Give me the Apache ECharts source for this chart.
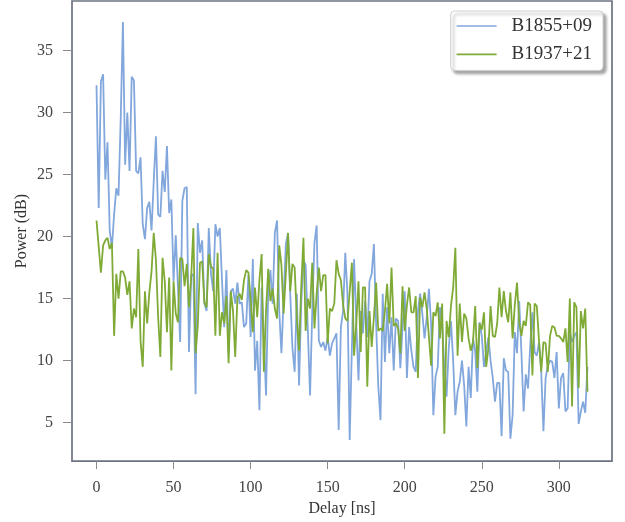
<!DOCTYPE html>
<html>
<head>
<meta charset="utf-8">
<script src="https://cdn.jsdelivr.net/npm/echarts@6/dist/echarts.min.js"></script>
<style>
  html, body { margin: 0; padding: 0; background: #ffffff; }
  #chart { width: 625px; height: 522px; }
</style>
</head>
<body>
<div id="chart"></div>
<script>
// Power delay profiles of two pulsars, one sample every 1/0.7 ns
const DELAY_STEP_NS = 1 / 0.7;

const SERIES_NAMES = ['B1855+09', 'B1937+21'];

const powerB1855 = [
  32.2, 22.3, 32.5, 33.1, 24.6, 27.6, 20.5, 19.1, 21.8, 23.9,
  23.3, 29.5, 37.3, 25.8, 30.0, 25.3, 32.9, 32.6, 25.3, 25.1,
  26.4, 21.0, 19.8, 22.3, 22.8, 20.5, 24.5, 28.1, 21.8, 21.6,
  25.3, 23.6, 27.3, 21.9, 23.0, 16.4, 20.1, 15.9, 11.5, 22.9,
  23.9, 24.0, 10.7, 16.8, 17.0, 7.3, 21.1, 18.7, 19.7, 14.6,
  14.0, 20.7, 17.0, 15.6, 21.0,
  20.0, 20.7, 16.5, 12.7, 17.3, 10.6, 15.6, 15.8, 14.6, 16.3,
  14.6, 14.7, 12.7, 13.0, 16.9, 11.9, 18.2, 9.2, 11.6, 6.0,
  15.9, 12.0, 7.2, 15.5, 17.3, 14.6, 20.3, 21.3, 14.0, 10.6,
  15.0, 19.4, 20.3, 15.4, 11.0, 9.1, 15.4, 8.0, 14.7, 18.1,
  17.7, 12.4, 7.2, 14.0, 19.5, 20.9, 11.6, 11.1, 11.5, 10.8,
  11.9, 10.4, 11.4, 11.8, 12.2, 4.4, 12.7,
  14.0, 18.7, 15.3, 3.6, 11.0, 18.2, 13.0, 8.4, 14.0, 12.2,
  14.8, 11.9, 16.4, 17.0, 19.4, 13.0, 7.9, 5.2, 15.4, 9.9,
  14.3, 10.6, 13.5, 9.2, 13.4, 13.2, 9.4, 12.7, 15.6, 8.6,
  12.7, 10.8, 9.5, 9.1, 14.0, 15.4, 13.8, 11.8, 13.5, 15.8,
  12.9, 5.6, 8.7, 9.5, 14.3, 13.0, 9.5, 7.1, 11.0, 13.2,
  10.0, 5.6, 7.5, 8.3, 10.0, 8.0, 4.7,
  9.5, 7.0, 11.8, 10.8, 7.5, 13.1, 12.0, 9.5, 10.7, 11.9,
  10.0, 8.6, 6.7, 8.2, 8.2, 3.9, 10.2, 9.2, 9.1, 3.7,
  5.6, 12.3, 10.6, 14.8, 10.7, 5.9, 8.9, 7.75, 11.2, 13.9,
  10.7, 10.4, 11.5, 9.1, 4.3, 8.6, 9.6, 10.0, 9.9, 8.6,
  10.7, 6.15, 8.6, 9.0, 5.9, 6.15, 12.3, 11.5, 12.0, 12.3,
  4.9, 5.9, 6.7, 5.8, 9.5
];

const powerB1937 = [
  21.3, 19.2, 17.1, 19.3, 19.7, 19.9, 19.0, 19.5, 12.0, 17.0,
  15.0, 17.2, 17.2, 16.7, 15.3, 16.4, 12.6, 14.2, 13.5, 19.0,
  11.6, 9.5, 15.6, 13.0, 15.5, 17.2, 20.3, 18.1, 13.5, 10.3,
  18.3, 16.4, 12.3, 16.7, 9.2, 16.4, 13.8, 13.1, 18.3, 18.2,
  16.0, 17.8, 14.3, 16.7, 20.7, 10.6, 12.8, 17.9, 18.0, 14.7,
  14.3, 18.6, 17.6, 17.4, 12.0, 18.7,
  12.0, 13.9, 13.0, 15.2, 9.8, 15.6, 14.0, 10.3, 15.1, 15.4,
  14.9, 16.5, 17.3, 17.1, 15.0, 12.3, 15.9, 13.5, 16.5, 18.6,
  9.1, 14.0, 17.4, 14.8, 15.8, 14.2, 13.4, 19.3, 17.7, 13.8,
  17.0, 20.3, 15.6, 17.8, 17.5, 13.5, 10.8, 16.0, 19.9, 12.4,
  15.0, 14.2, 17.9, 12.6, 15.4, 17.5, 15.6, 16.9, 16.9, 11.4,
  14.2, 14.0, 14.6, 18.1, 17.0, 16.5,
  14.5, 13.4, 13.2, 15.6, 17.9, 10.4, 13.0, 16.4, 10.7, 15.9,
  15.9, 7.9, 14.0, 11.1, 13.5, 16.3, 12.4, 12.6, 12.4, 14.0,
  16.2, 13.0, 17.5, 12.8, 13.0, 12.6, 10.6, 16.0, 12.4, 14.5,
  15.9, 13.9, 13.9, 15.2, 8.6, 15.1, 14.3, 15.5, 14.2, 11.9,
  9.6, 13.9, 13.6, 14.7, 11.8, 14.6, 4.1, 13.2, 11.9, 14.4,
  15.9, 19.1, 10.4, 14.6, 11.5, 13.8, 13.4,
  11.8, 10.8, 11.5, 14.4, 9.4, 13.0, 12.5, 13.9, 9.5, 11.0,
  14.4, 12.0, 11.9, 13.0, 15.9, 13.5, 15.6, 14.0, 13.1, 15.5,
  11.8, 14.5, 16.3, 13.1, 12.0, 13.2, 12.8, 14.7, 14.5, 8.8,
  14.6, 14.4, 11.6, 9.1, 11.5, 11.4, 9.1, 12.0, 12.8, 12.7,
  12.0, 12.0, 11.8, 11.5, 12.6, 9.9, 15.0, 6.3, 14.7, 14.3,
  7.8, 14.0, 12.6, 14.2, 7.5
];

const X_TICKS = [0, 50, 100, 150, 200, 250, 300];
const Y_TICKS = [5, 10, 15, 20, 25, 30, 35];

const COLORS = ['#82a7dd', '#7faa36'];
const FONT = '"Liberation Serif", "DejaVu Serif", serif';

function toPoints(values) {
  return values.map((v, i) => [i * DELAY_STEP_NS, v]);
}

const chart = echarts.init(document.getElementById('chart'), null, { renderer: 'canvas' });

chart.setOption({
  animation: false,
  backgroundColor: '#ffffff',
  textStyle: { fontFamily: FONT },
  grid: {
    left: 72, right: 13, top: 1, bottom: 59,
    show: true,
    borderColor: '#6c7480',
    borderWidth: 1.7,
    backgroundColor: 'transparent'
  },
  legend: {
    orient: 'vertical',
    right: 22,
    top: 11,
    padding: [5, 11, 6, 6],
    itemWidth: 40,
    itemHeight: 1.7,
    itemGap: 8.4,
    icon: 'rect',
    backgroundColor: '#ffffff',
    borderColor: '#d0d0d0',
    borderWidth: 1,
    borderRadius: 4,
    shadowColor: 'rgba(0,0,0,0.35)',
    shadowBlur: 3,
    shadowOffsetX: 3,
    shadowOffsetY: 3,
    textStyle: {
      fontFamily: FONT,
      fontSize: 19,
      lineHeight: 20,
      color: '#333333',
      padding: [0, 0, 0, 10]
    },
    data: SERIES_NAMES.map((name, i) => ({ name, itemStyle: { color: COLORS[i] } }))
  },
  xAxis: {
    type: 'value',
    min: -15.9,
    max: 334.5,
    name: 'Delay [ns]',
    nameLocation: 'middle',
    nameGap: 36,
    nameTextStyle: { fontFamily: FONT, fontSize: 16, color: '#333333' },
    axisLine: { show: false, onZero: false },
    splitLine: { show: false },
    axisTick: {
      show: true,
      inside: false,
      length: 8,
      customValues: X_TICKS,
      lineStyle: { color: '#8a8a8a', width: 1 }
    },
    axisLabel: {
      customValues: X_TICKS,
      margin: 19,
      fontFamily: FONT,
      fontSize: 16,
      color: '#444444'
    }
  },
  yAxis: {
    type: 'value',
    min: 1.9,
    max: 39.0,
    name: 'Power (dB)',
    nameLocation: 'middle',
    nameRotate: 90,
    nameGap: 42,
    nameMoveOverlap: false,
    nameTextStyle: { fontFamily: FONT, fontSize: 16, color: '#333333' },
    axisLine: { show: false, onZero: false },
    splitLine: { show: false },
    axisTick: {
      show: true,
      inside: false,
      length: 9,
      customValues: Y_TICKS,
      lineStyle: { color: '#8a8a8a', width: 1 }
    },
    axisLabel: {
      customValues: Y_TICKS,
      margin: 19,
      fontFamily: FONT,
      fontSize: 16,
      color: '#444444'
    }
  },
  series: SERIES_NAMES.map((name, i) => ({
    name,
    type: 'line',
    data: toPoints(i === 0 ? powerB1855 : powerB1937),
    symbol: 'none',
    showSymbol: false,
    clip: true,
    lineStyle: { color: COLORS[i], width: 1.8 },
    itemStyle: { color: COLORS[i] }
  }))
});
</script>
</body>
</html>
